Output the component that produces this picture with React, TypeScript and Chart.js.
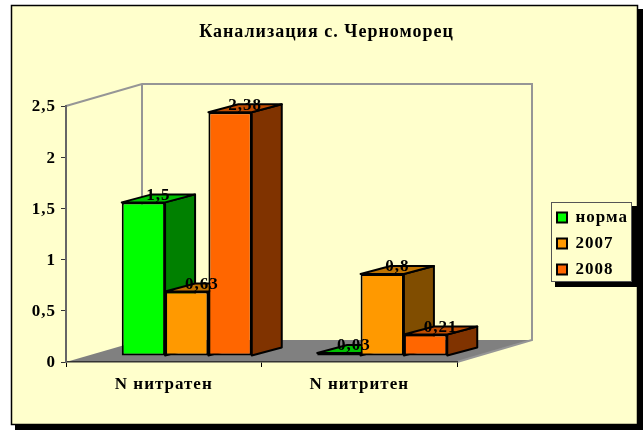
import React, { useEffect, useRef } from "react";
import { Chart, registerables } from "chart.js";

Chart.register(...registerables);

const chartTitle = "Канализация с. Черноморец";
const categories = ["N нитратен", "N нитритен"];
const seriesNames = ["норма", "2007", "2008"];
const normaValues = [1.5, 0.03];
const values2007 = [0.63, 0.8];
const values2008 = [2.38, 0.21];

const frontColors = ["#00FF00", "#FF9900", "#FF6600"];
const topColors = ["#00C000", "#C07300", "#C04D00"];
const sideColors = ["#008000", "#804D00", "#803300"];

const SERIF = "'Liberation Serif', 'Times New Roman', serif";
const BAR_SHIFT = { x: 23, y: -6 };
const BAR_DEPTH = { x: 30, y: -8 };
const WALL_DEPTH = { x: 76, y: -22 };

const comma = (v: number) => String(v).replace(".", ",");

const scene = {
  id: "scene",
  beforeLayout(chart: any) {
    chart.ctx.letterSpacing = "1px";
  },
  afterLayout(chart: any) {
    const t = chart.titleBlock;
    if (t) {
      t.left = 0;
      t.right = 653;
    }
    const l = chart.legend;
    if (l) {
      l.left = 548;
      l.right = 632;
      l.top = 200;
      l.bottom = 320;
      l.width = 84;
      l.height = 120;
    }
  },
  beforeDraw(chart: any) {
    const { ctx, chartArea: a } = chart;
    ctx.save();
    // page card with hard shadow
    ctx.fillStyle = "#000";
    ctx.fillRect(15, 9, 628, 421);
    ctx.fillStyle = "#FFFFCC";
    ctx.fillRect(11, 5, 627, 420);
    ctx.strokeStyle = "#000";
    ctx.lineWidth = 1.5;
    ctx.strokeRect(11.5, 5.5, 626, 419);
    // floor
    const d = WALL_DEPTH;
    ctx.fillStyle = "#808080";
    ctx.beginPath();
    ctx.moveTo(a.left, a.bottom);
    ctx.lineTo(a.right, a.bottom);
    ctx.lineTo(a.right + d.x - 1, a.bottom + d.y);
    ctx.lineTo(a.left + d.x, a.bottom + d.y);
    ctx.closePath();
    ctx.fill();
    // walls
    ctx.strokeStyle = "#969696";
    ctx.lineWidth = 2;
    ctx.beginPath();
    ctx.moveTo(a.left, a.top);
    ctx.lineTo(a.left + d.x, a.top + d.y);
    ctx.lineTo(a.right + d.x - 1, a.top + d.y);
    ctx.lineTo(a.right + d.x - 1, a.bottom + d.y);
    ctx.lineTo(a.right, a.bottom);
    ctx.moveTo(a.left + d.x, a.top + d.y);
    ctx.lineTo(a.left + d.x, a.bottom + d.y);
    ctx.stroke();
    // legend frame
    ctx.fillStyle = "#000";
    ctx.fillRect(555, 206, 82, 81);
    ctx.fillStyle = "#FFFFCC";
    ctx.fillRect(551, 202, 81, 80);
    ctx.strokeStyle = "#555";
    ctx.lineWidth = 1;
    ctx.strokeRect(551.5, 202.5, 80, 79);
    ctx.restore();
  },
  beforeDatasetsDraw(chart: any) {
    const { ctx } = chart;
    const D = BAR_DEPTH;
    ctx.save();
    ctx.translate(BAR_SHIFT.x, BAR_SHIFT.y);
    chart.data.datasets.forEach((_: any, i: number) => {
      chart.getDatasetMeta(i).data.forEach((bar: any) => {
        const p = bar.getProps(["x", "y", "base", "width"], true);
        const l = p.x - p.width / 2;
        const r = p.x + p.width / 2;
        ctx.lineWidth = 2;
        ctx.strokeStyle = "#000";
        ctx.lineJoin = "round";
        ctx.fillStyle = sideColors[i];
        ctx.beginPath();
        ctx.moveTo(r, p.y);
        ctx.lineTo(r + D.x, p.y + D.y);
        ctx.lineTo(r + D.x, p.base + D.y);
        ctx.lineTo(r, p.base);
        ctx.closePath();
        ctx.fill();
        ctx.stroke();
        ctx.fillStyle = topColors[i];
        ctx.beginPath();
        ctx.moveTo(l, p.y);
        ctx.lineTo(l + D.x, p.y + D.y);
        ctx.lineTo(r + D.x, p.y + D.y);
        ctx.lineTo(r, p.y);
        ctx.closePath();
        ctx.fill();
        ctx.stroke();
        ctx.lineJoin = "miter";
        bar.draw(ctx);
      });
    });
    ctx.fillStyle = "#000";
    ctx.font = `bold 17px ${SERIF}`;
    ctx.textAlign = "center";
    ctx.textBaseline = "middle";
    chart.data.datasets.forEach((ds: any, i: number) => {
      chart.getDatasetMeta(i).data.forEach((bar: any, j: number) => {
        const p = bar.getProps(["x", "y"], true);
        ctx.fillText(comma(ds.data[j]), p.x + D.x / 2, p.y - 7);
      });
    });
    ctx.restore();
    return false;
  },
};

export default function App() {
  const ref = useRef<HTMLCanvasElement | null>(null);
  useEffect(() => {
    document.body.style.margin = "0";
    document.body.style.background = "#fff";
    const data = [normaValues, values2007, values2008];
    const chart = new Chart(ref.current as HTMLCanvasElement, {
      type: "bar",
      data: {
        labels: categories,
        datasets: seriesNames.map((label, i) => ({
          label,
          data: data[i],
          backgroundColor: frontColors[i],
          borderColor: "#000",
          borderWidth: 2,
          borderSkipped: false,
          barPercentage: 1,
          categoryPercentage: 0.665,
        })),
      },
      options: {
        responsive: false,
        animation: false,
        layout: { padding: { left: 0, right: 186, top: 0, bottom: 0 } },
        plugins: {
          tooltip: { enabled: false },
          title: {
            display: true,
            text: chartTitle,
            color: "#000",
            font: { family: SERIF, size: 18, weight: "bold", lineHeight: 1.2 },
            padding: { top: 22, bottom: 62.4 },
          },
          legend: {
            position: "chartArea",
            align: "start",
            labels: {
              color: "#000",
              font: { family: SERIF, size: 17, weight: "bold" },
              boxWidth: 10,
              boxHeight: 10,
              padding: 9,
            },
          },
        },
        scales: {
          x: {
            grid: { drawOnChartArea: false, color: "#000", tickLength: 5 },
            border: { color: "#333", width: 1.5 },
            ticks: {
              color: "#000",
              padding: 7,
              maxRotation: 0,
              font: { family: SERIF, size: 17, weight: "bold" },
            },
            afterFit(s: any) {
              s.height = 68;
            },
          },
          y: {
            min: 0,
            max: 2.5,
            grid: { drawOnChartArea: false, color: "#333", tickLength: 5 },
            border: { color: "#666", width: 2 },
            ticks: {
              stepSize: 0.5,
              color: "#000",
              padding: 5,
              labelOffset: 1,
              font: { family: SERIF, size: 17, weight: "bold" },
              callback: (v: any) => comma(Number(v)),
            },
            afterFit(s: any) {
              s.width = 66;
            },
          },
        },
      } as any,
      plugins: [scene as any],
    });
    return () => chart.destroy();
  }, []);
  return <canvas ref={ref} width={643} height={430} style={{ display: "block" }} />;
}
